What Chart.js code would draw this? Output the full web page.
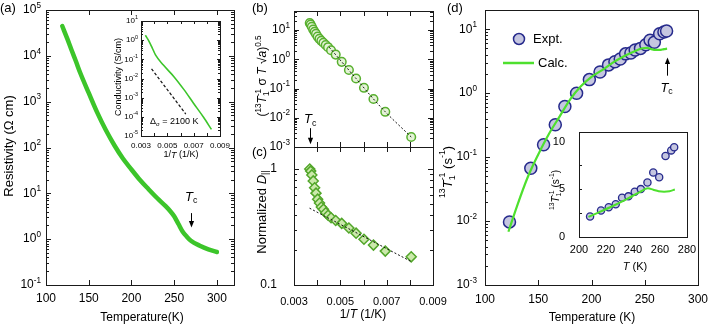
<!DOCTYPE html>
<html><head><meta charset="utf-8">
<script src="https://cdn.jsdelivr.net/npm/chart.js@4.4.1/dist/chart.umd.min.js"></script>
<style>
html,body{margin:0;padding:0;background:#fff;}
#wrap{position:relative;width:709px;height:327px;overflow:hidden;background:#fff;}
canvas{position:absolute;left:0;top:0;}
</style></head><body>
<div id="wrap">
<canvas id="cA" width="709" height="327"></canvas>
<canvas id="cAi" width="709" height="327"></canvas>
<canvas id="cB" width="709" height="327"></canvas>
<canvas id="cC" width="709" height="327"></canvas>
<canvas id="cD" width="709" height="327"></canvas>
<canvas id="cDi" width="709" height="327"></canvas>
</div>
<script>
// ---------- data ----------
const resT = [119, 125, 130, 135, 140, 150, 160, 170, 180, 190, 200, 210, 220, 230, 240, 245, 250, 255, 260, 265, 270, 280, 290, 300];
const resRho = [44700, 23400, 13200, 7600, 4270, 1550, 575, 240, 112, 57.5, 33.1, 19.5, 12.3, 7.9, 5.25, 4.17, 3.16, 2.14, 1.45, 1.12, 0.91, 0.72, 0.60, 0.525];

const condInvT = [0.00333, 0.00360, 0.00385, 0.00410, 0.00470, 0.00550, 0.00625, 0.00700, 0.00775, 0.00835];
const condSigma = [1.8, 0.9, 0.4, 0.17, 0.05, 0.0125, 0.0027, 5.0e-4, 9.5e-5, 2.2e-5];
const condFitInvT = [0.0038, 0.0064];
const condFitSigma = [0.032, 1.4e-4];

const nmrInvT = [0.00368, 0.00372, 0.00377, 0.00383, 0.00389, 0.00395, 0.00402, 0.00410, 0.00418, 0.00427, 0.00437, 0.00447, 0.00460, 0.00480, 0.00506, 0.00537, 0.00568, 0.00602, 0.00643, 0.00694, 0.00806];
const bValues = [17.5, 15.5, 13, 10.5, 8.8, 7.4, 6.0, 5.0, 4.3, 3.7, 3.1, 2.6, 2.05, 1.45, 0.82, 0.43, 0.22, 0.106, 0.044, 0.016, 0.0022];
const bFitInvT = [0.00452, 0.00506, 0.00568, 0.00643, 0.00694, 0.00806];
const bFitValues = [2.6, 0.82, 0.22, 0.044, 0.016, 0.0022];
const cValues = [1.0, 0.96, 0.89, 0.79, 0.69, 0.62, 0.55, 0.51, 0.47, 0.45, 0.42, 0.40, 0.38, 0.36, 0.34, 0.31, 0.28, 0.248, 0.221, 0.196, 0.175];
const cFitInvT = [0.00367, 0.00804];
const cFitValues = [0.46, 0.16];

const exptT = [123, 143, 155, 166, 175, 186, 198, 208, 216, 222, 227, 232, 237, 241, 246, 251, 255, 259, 264, 268, 270.5];
const exptRate = [0.0097, 0.067, 0.156, 0.32, 0.62, 1.0, 1.63, 2.15, 2.77, 3.11, 3.43, 4.12, 4.26, 4.74, 5.02, 5.71, 6.75, 6.26, 8.48, 9.07, 9.41];
const calcT = [122, 130, 140, 150, 160, 170, 180, 190, 200, 210, 220, 230, 240, 248, 252, 256, 260, 264, 268, 271];
const calcRate = [0.0068, 0.017, 0.048, 0.11, 0.23, 0.43, 0.8, 1.28, 1.8, 2.3, 3.0, 3.75, 4.5, 5.05, 5.1, 4.9, 4.75, 4.75, 4.9, 4.97];

const insetExptT = [208.2, 216.3, 222, 227.2, 231.9, 236.6, 241.3, 245.8, 250.7, 255, 259.4, 264.1, 268.3, 270.5];
const insetExptRate = [2.15, 2.77, 3.11, 3.43, 4.12, 4.26, 4.74, 5.02, 5.71, 6.75, 6.26, 8.48, 9.07, 9.41];
const insetCalcT = [207, 215, 225, 235, 245, 251, 255, 259, 263, 267, 271];
const insetCalcRate = [2.1, 2.6, 3.25, 3.95, 4.7, 5.1, 4.95, 4.8, 4.75, 4.8, 4.97];

const tempTicks = [100, 150, 200, 250, 300];
const invTTicks = [0.003, 0.005, 0.007, 0.009];
const invTMarks = [0.003, 0.004, 0.005, 0.006, 0.007, 0.008, 0.009];
const insetTTicks = [200, 220, 240, 260, 280];
const insetRateTicks = [0, 5, 10];
const insetRateMarks = [2.5, 5, 7.5];

// ---------- helpers ----------
const W = 709, H = 327;
const FONT = '"Liberation Sans", Arial, Helvetica, sans-serif';
Chart.defaults.font.family = FONT;
Chart.defaults.color = '#000';
const pts = (xs, ys) => xs.map((x, i) => ({x, y: ys[i]}));
function decades(min, max) { const o = []; for (let k = Math.ceil(Math.log10(min) - 1e-9); k <= Math.floor(Math.log10(max) + 1e-9); k++) o.push(Math.pow(10, k)); return o; }
function logMinor(min, max) { const o = []; for (let k = Math.floor(Math.log10(min)); k <= Math.ceil(Math.log10(max)); k++) for (let m = 2; m <= 9; m++) { const v = m * Math.pow(10, k); if (v > min * 1.0001 && v < max * 0.9999) o.push(v); } return o; }
function fontStr(size, it) { return (it ? 'italic ' : '') + size + 'px ' + FONT; }
function drawRich(ctx, x, y, parts, align, rot, base) {
  ctx.save(); ctx.translate(x, y); if (rot) ctx.rotate(rot);
  ctx.textBaseline = 'middle'; ctx.textAlign = 'left'; ctx.fillStyle = '#000';
  const segs = parts.map(p => {
    if (typeof p === 'string') p = {t: p};
    const small = p.k === 'sup' || p.k === 'sub' || p.k === 'stack';
    const size = small ? base * 0.68 : base;
    ctx.font = fontStr(size, p.i);
    let w = ctx.measureText(p.t).width;
    if (p.k === 'stack') w = Math.max(w, ctx.measureText(p.sub).width);
    return Object.assign({}, p, {size, w});
  });
  const total = segs.reduce((s, g) => s + g.w, 0);
  let cx = align === 'center' ? -total / 2 : align === 'right' ? -total : 0;
  for (const g of segs) {
    ctx.font = fontStr(g.size, g.i);
    if (g.k === 'sup') ctx.fillText(g.t, cx, -base * 0.38);
    else if (g.k === 'sub') ctx.fillText(g.t, cx, base * 0.3);
    else if (g.k === 'stack') { ctx.fillText(g.t, cx, -base * 0.38); ctx.fillText(g.sub, cx, base * 0.32); }
    else ctx.fillText(g.t, cx, 0);
    cx += g.w;
  }
  ctx.restore();
}
function arrow(ctx, x, y1, y2) {
  const d = Math.sign(y2 - y1); const px = Math.round(x) + 0.5;
  ctx.save(); ctx.strokeStyle = '#000'; ctx.fillStyle = '#000'; ctx.lineWidth = 1;
  ctx.beginPath(); ctx.moveTo(px, y1); ctx.lineTo(px, y2 - d * 5); ctx.stroke();
  ctx.beginPath(); ctx.moveTo(px, y2); ctx.lineTo(px - 2.6, y2 - d * 6.5); ctx.lineTo(px + 2.6, y2 - d * 6.5); ctx.closePath(); ctx.fill();
  ctx.restore();
}
const TC = [{t: 'T', i: 1}, {t: 'c', k: 'sub'}];
const R1 = [{t: '13', k: 'sup'}, {t: 'T', i: 1}, {t: '-1', k: 'stack', sub: '1'}];

function deco(ch, c) {
  const ctx = ch.ctx, a = ch.chartArea, xs = ch.scales.x, ys = ch.scales.y;
  ctx.save();
  ctx.strokeStyle = '#1a1a1a'; ctx.lineWidth = 1;
  const L = c.tickLen || 5, mL = c.minorLen || 3;
  ctx.beginPath();
  const xT = (vals, len) => (vals || []).forEach(v => { const p = Math.round(xs.getPixelForValue(v)) + 0.5;
    if ((c.xSides || '').includes('b')) { ctx.moveTo(p, a.bottom); ctx.lineTo(p, a.bottom - len); }
    if ((c.xSides || '').includes('t')) { ctx.moveTo(p, a.top); ctx.lineTo(p, a.top + len); } });
  const yT = (vals, len) => (vals || []).forEach(v => { const p = Math.round(ys.getPixelForValue(v)) + 0.5;
    if ((c.ySides || '').includes('l')) { ctx.moveTo(a.left, p); ctx.lineTo(a.left + len, p); }
    if ((c.ySides || '').includes('r')) { ctx.moveTo(a.right, p); ctx.lineTo(a.right - len, p); } });
  xT(c.x.marks, L); xT(c.x.minor, mL); yT(c.y.marks, L); yT(c.y.minor, mL);
  ctx.stroke();
  ctx.strokeRect(Math.round(a.left) + 0.5, Math.round(a.top) + 0.5, Math.round(a.right - a.left), Math.round(a.bottom - a.top));
  if (c.y.logLabels) {
    const ll = c.y.logLabels;
    (c.y.major || []).forEach(v => {
      const e = Math.round(Math.log10(v));
      drawRich(ctx, a.left - ll.gap, ys.getPixelForValue(v), ['10', {t: String(e), k: 'sup'}], 'right', 0, ll.fs);
    });
  }
  if (c.extra) c.extra(ctx, a, xs, ys);
  ctx.restore();
}

function makeChart(id, c) {
  const ax = (s, horiz) => ({
    type: s.type || 'linear', min: s.min, max: s.max, position: horiz ? 'bottom' : 'left',
    grid: {display: false}, border: {display: false},
    ticks: {display: !!s.labels, autoSkip: false, maxRotation: 0, minRotation: 0, padding: s.pad === undefined ? 5 : s.pad,
      font: {size: s.fs || 12}, color: '#000', callback: v => s.fmt ? s.fmt(v) : String(v)},
    afterBuildTicks: sc => { sc.ticks = (s.labels || s.major || []).map(v => ({value: v})); },
    afterFit: sc => { if (horiz) sc.height = H - c.area.b; else sc.width = c.area.l; sc.paddingLeft = sc.paddingRight = sc.paddingTop = sc.paddingBottom = 0; }
  });
  return new Chart(document.getElementById(id), {
    type: 'scatter',
    data: {datasets: c.datasets},
    options: {
      responsive: false, animation: false, events: [],
      layout: {padding: {left: 0, top: c.area.t, right: W - c.area.r, bottom: 0}},
      plugins: {legend: {display: false}, tooltip: {enabled: false}},
      scales: {x: ax(c.x, true), y: ax(c.y, false)}
    },
    plugins: [{id: 'deco', afterDraw: ch => deco(ch, c)}]
  });
}
const line = (data, color, w, extra) => Object.assign({data, showLine: true, borderColor: color, backgroundColor: color, borderWidth: w, pointRadius: 0, cubicInterpolationMode: 'monotone', clip: false}, extra || {});
const marks = (data, style, r, fill, stroke, bw) => ({data, showLine: false, pointStyle: style, pointRadius: r, pointBackgroundColor: fill, pointBorderColor: stroke, pointBorderWidth: bw, backgroundColor: fill, borderColor: stroke, clip: false});

const GREEN_A = '#3cc52a', GREEN_D = '#4ee02e';

// ---------- (a) ----------
makeChart('cA', {
  area: {l: 46, t: 10, r: 234, b: 285}, xSides: 'bt', ySides: 'lr',
  x: {min: 100, max: 320, labels: tempTicks, marks: tempTicks, fs: 12, pad: -2},
  y: {type: 'logarithmic', min: 0.1, max: 1e5, major: decades(0.1, 1e5), marks: decades(0.1, 1e5), minor: logMinor(0.1, 1e5), logLabels: {fs: 12, gap: 5}},
  datasets: [line(pts(resT, resRho), GREEN_A, 4.5, {borderCapStyle: 'round'})],
  extra: (ctx, a, xs, ys) => {
    drawRich(ctx, 142, 318, ['Temperature(K)'], 'center', 0, 12);
    drawRich(ctx, 9, 146, ['Resistivity (Ω cm)'], 'center', -Math.PI / 2, 13);
    drawRich(ctx, 0, 8, ['(a)'], 'left', 0, 13);
    arrow(ctx, xs.getPixelForValue(270), ys.getPixelForValue(3.7), ys.getPixelForValue(1.8));
    drawRich(ctx, xs.getPixelForValue(270), ys.getPixelForValue(8.3), TC, 'center', 0, 13);
  }
});
makeChart('cAi', {
  area: {l: 141, t: 21, r: 220, b: 136}, xSides: 'bt', ySides: 'lr', tickLen: 3, minorLen: 2,
  x: {min: 0.003, max: 0.009, labels: invTTicks, marks: invTMarks, fs: 8, pad: -3, fmt: v => v.toFixed(3)},
  y: {type: 'logarithmic', min: 1e-5, max: 10, major: decades(1e-5, 10), marks: decades(1e-5, 10), minor: logMinor(1e-5, 10), logLabels: {fs: 8, gap: 3}},
  datasets: [
    line(pts(condFitInvT, condFitSigma), '#111', 1.2, {borderDash: [3, 2]}),
    line(pts(condInvT, condSigma), GREEN_A, 1.6)
  ],
  extra: (ctx, a) => {
    drawRich(ctx, 119, 77, ['Conductivity (S/cm)'], 'center', -Math.PI / 2, 9);
    drawRich(ctx, 181, 155, ['1/', {t: 'T', i: 1}, ' (1/K)'], 'center', 0, 9);
    drawRich(ctx, a.left + 9, a.bottom - 14, ['Δ', {t: 'σ', k: 'sub'}, ' = 2100 K'], 'left', 0, 9);
  }
});

// ---------- (b) ----------
makeChart('cB', {
  area: {l: 294, t: 11, r: 433, b: 147}, xSides: 'bt', ySides: 'lr',
  x: {min: 0.003, max: 0.009, marks: invTMarks},
  y: {type: 'logarithmic', min: 1e-3, max: 45, major: decades(1e-3, 45), marks: decades(1e-3, 45), minor: logMinor(1e-3, 45), logLabels: {fs: 12, gap: 4}},
  datasets: [
    line(pts(bFitInvT, bFitValues), '#111', 1, {borderDash: [2, 2]}),
    marks(pts(nmrInvT, bValues), 'circle', 4.3, '#e4f3d6', '#58b02f', 1.5)
  ],
  extra: (ctx, a, xs, ys) => {
    drawRich(ctx, 263, 76, ['('].concat(R1, [' σ ', {t: 'T', i: 1}, ' √', {t: 'a', i: 1}, ')', {t: '0.5', k: 'sup'}]), 'center', -Math.PI / 2, 12);
    drawRich(ctx, 252, 8, ['(b)'], 'left', 0, 13);
    arrow(ctx, xs.getPixelForValue(0.0037), ys.getPixelForValue(0.0044), ys.getPixelForValue(0.00125));
    drawRich(ctx, xs.getPixelForValue(0.0037), ys.getPixelForValue(0.0085), TC, 'center', 0, 13);
  }
});

// ---------- (c) ----------
makeChart('cC', {
  area: {l: 294, t: 147, r: 433, b: 285}, xSides: 'bt', ySides: 'lr',
  x: {min: 0.003, max: 0.009, labels: invTTicks, marks: invTMarks, fs: 11, pad: 2, fmt: v => v.toFixed(3)},
  y: {type: 'logarithmic', min: 0.1, max: 1.55, labels: [0.1, 1], marks: [0.1, 1], minor: logMinor(0.1, 1.55), fs: 12, pad: 9, fmt: v => (v >= 1 ? '1' : '0.1')},
  datasets: [
    line(pts(cFitInvT, cFitValues), '#111', 1, {borderDash: [2, 2]}),
    marks(pts(nmrInvT, cValues), 'rectRot', 5, '#cbe9ab', '#52a62a', 1.5)
  ],
  extra: (ctx) => {
    drawRich(ctx, 262, 212, ['Normalized ', {t: 'D', i: 1}, {t: '||', k: 'sub'}], 'center', -Math.PI / 2, 13);
    drawRich(ctx, 363, 315, ['1/', {t: 'T', i: 1}, ' (1/K)'], 'center', 0, 12);
    drawRich(ctx, 252, 152, ['(c)'], 'left', 0, 13);
  }
});

// ---------- (d) ----------
makeChart('cD', {
  area: {l: 485, t: 10, r: 698, b: 285}, xSides: 'b', ySides: 'l',
  x: {min: 100, max: 300, labels: tempTicks, marks: tempTicks, fs: 12, pad: -1},
  y: {type: 'logarithmic', min: 1e-3, max: 20, major: decades(1e-3, 20), marks: decades(1e-3, 20), minor: logMinor(1e-3, 20), logLabels: {fs: 12, gap: 8}},
  datasets: [
    line(pts(calcT, calcRate), GREEN_D, 2.2),
    marks(pts(exptT, exptRate), 'circle', 6, '#c5c6e0', '#262a8c', 1.5)
  ],
  extra: (ctx, a, xs, ys) => {
    drawRich(ctx, 448, 172, R1.concat([' (s', {t: '-1', k: 'sup'}, ')']), 'center', -Math.PI / 2, 13);
    drawRich(ctx, 592, 318, ['Temperature (K)'], 'center', 0, 12);
    drawRich(ctx, 447, 8, ['(d)'], 'left', 0, 13);
    arrow(ctx, xs.getPixelForValue(270.5), ys.getPixelForValue(1.88), ys.getPixelForValue(3.6));
    drawRich(ctx, xs.getPixelForValue(270.5), ys.getPixelForValue(1.2), TC, 'center', 0, 13);
    ctx.save();
    ctx.beginPath(); ctx.arc(a.left + 34, a.top + 29, 5.5, 0, Math.PI * 2);
    ctx.fillStyle = '#c5c6e0'; ctx.fill(); ctx.lineWidth = 1.5; ctx.strokeStyle = '#262a8c'; ctx.stroke();
    ctx.beginPath(); ctx.moveTo(a.left + 18, a.top + 53); ctx.lineTo(a.left + 49, a.top + 53);
    ctx.strokeStyle = GREEN_D; ctx.lineWidth = 2.5; ctx.stroke();
    ctx.restore();
    drawRich(ctx, a.left + 48, a.top + 29, ['Expt.'], 'left', 0, 13);
    drawRich(ctx, a.left + 53, a.top + 53, ['Calc.'], 'left', 0, 13);
  }
});
makeChart('cDi', {
  area: {l: 579, t: 132, r: 687, b: 237}, xSides: '', ySides: 'l', tickLen: 3,
  x: {min: 200, max: 280, labels: insetTTicks, fs: 11, pad: -2},
  y: {min: 0, max: 11, labels: insetRateTicks, marks: insetRateMarks, fs: 11, pad: 6},
  datasets: [
    line(pts(insetCalcT, insetCalcRate), GREEN_D, 2),
    marks(pts(insetExptT, insetExptRate), 'circle', 3.6, '#c5c6e0', '#262a8c', 1.3)
  ],
  extra: (ctx) => {
    drawRich(ctx, 556, 190, R1.concat([' (s', {t: '-1', k: 'sup'}, ')']), 'center', -Math.PI / 2, 10);
    drawRich(ctx, 635, 267, [{t: 'T', i: 1}, ' (K)'], 'center', 0, 11);
  }
});
</script>
</body></html>
